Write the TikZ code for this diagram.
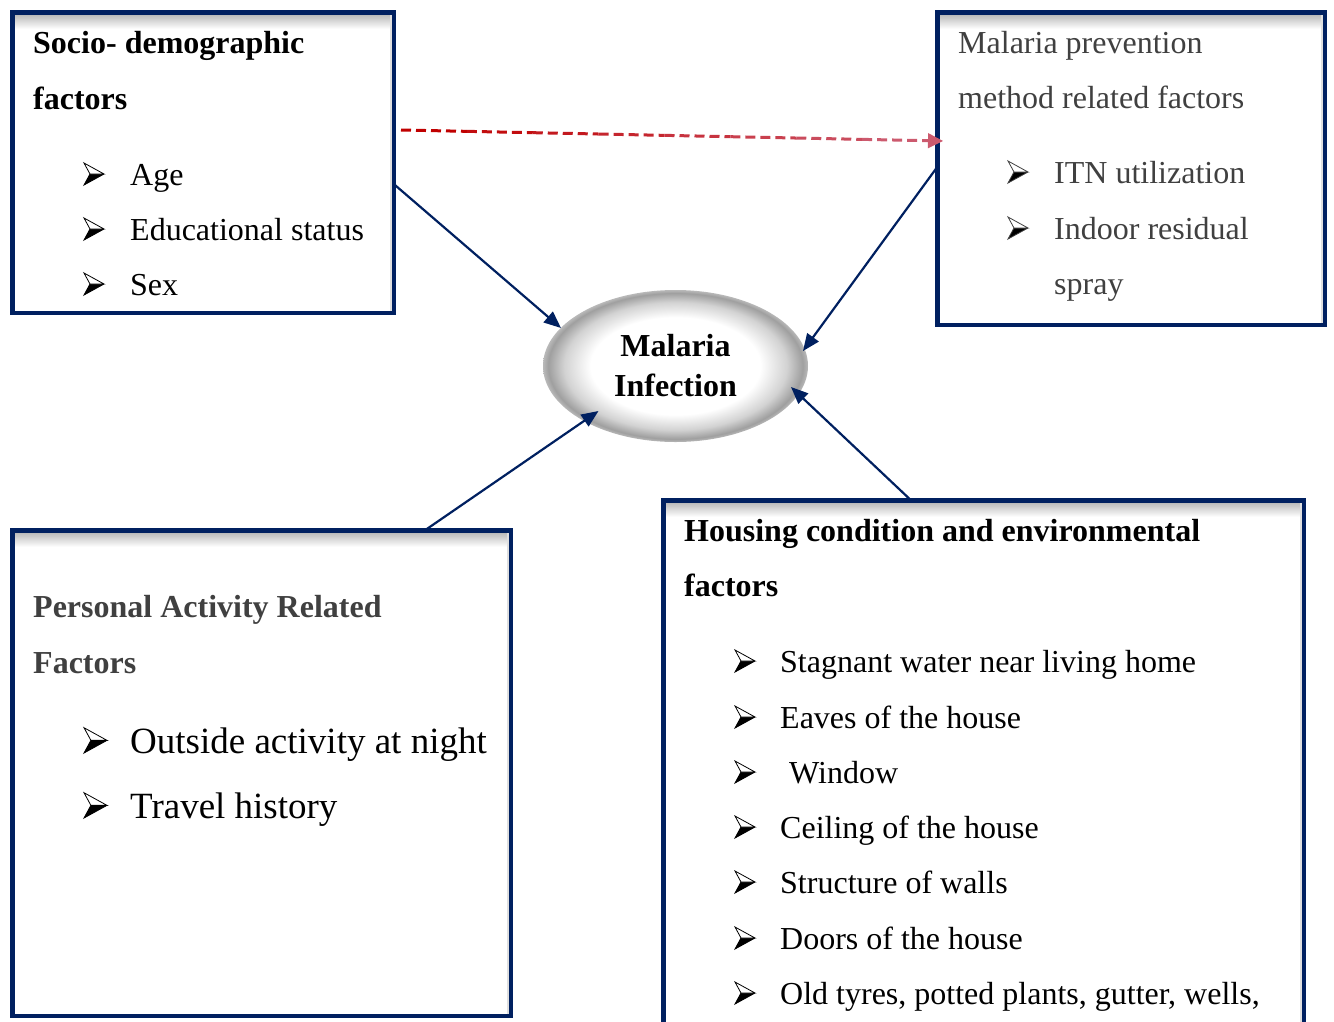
\documentclass[tikz,border=0pt]{standalone}
\usepackage{fontspec}
\setmainfont{Liberation Serif}
\usetikzlibrary{arrows.meta,calc,shapes.geometric}
\definecolor{navy}{HTML}{002060}
\definecolor{dgrey}{HTML}{404040}
\definecolor{dred}{HTML}{C00000}
\definecolor{pinkr}{HTML}{CC5A6E}
\pgfdeclareradialshading{ellshade}{\pgfpoint{0bp}{0bp}}{color(0bp)=(white); color(16bp)=(white); color(21bp)=(gray!35); color(24bp)=(gray!75); color(25bp)=(gray!55); color(50bp)=(gray!55)}
\tikzset{
  bul/.pic={
    \fill[black] (6,-11) -- (20,-11) -- (0,0) -- cycle;
    \draw[line width=0.8pt, fill=white, line join=miter] (0,-22) -- (20,-11) -- (6,-11) -- cycle;
    \draw[line width=0.8pt] (6,-11) -- (0,0) -- (20,-11);
  }
}
\begin{document}
\begin{tikzpicture}[x=1pt,y=-1pt,
  box/.style={draw=navy, line width=4.5pt, fill=white, inner sep=0pt, outer sep=0pt, anchor=north west,
    path picture={
      \foreach \k in {0,...,17}{
        \pgfmathtruncatemacro\c{65-\k*65/17}
        \fill[gray!\c] ([yshift=-\k pt]path picture bounding box.north west)
          rectangle ([yshift=-\k pt-1.3pt]path picture bounding box.north east);
      }
      \fill[gray!25] (path picture bounding box.north east) rectangle ([xshift=-4pt]path picture bounding box.south east);
    }},
  txt/.style={anchor=base west, inner sep=0pt, font=\fontsize{32}{38}\selectfont},
  btxt/.style={txt, font=\fontsize{32}{38}\selectfont\bfseries},
  ltxt/.style={anchor=base west, inner sep=0pt, font=\fontsize{37}{44}\selectfont},
  arr/.style={draw=navy, line width=2.2pt, -{Triangle[length=17pt,width=14pt]}},
  dline/.style={line width=3pt, dash pattern=on 10pt off 5pt}
]
\useasboundingbox (0,0) rectangle (1334,1021);
\clip (0,0) rectangle (1334,1021);

% boxes
\node[box, minimum width=381.5, minimum height=300.5] (soc) at (12.25,12.25) {};
\node[box, minimum width=387.5, minimum height=312.5] (prev) at (937.25,12.25) {};
\node[box, minimum width=498.5, minimum height=485.5] (pers) at (12.25,530.25) {};
\node[box, minimum width=640.5, minimum height=600] (hous) at (663.25,500.25) {};

% ellipse
\node[ellipse, shading=ellshade, minimum width=265, minimum height=152, inner sep=0pt,
  align=center, font=\fontsize{32}{40}\selectfont\bfseries] (ell) at (675.5,366) {Malaria\\Infection};

% socio-demographic
\node[btxt] (s1) at (33,53) {Socio- demographic};
\node[btxt] (s2) at (33,109) {factors};
\pic at (84,185) {bul}; \node[txt] (s3) at (130,185) {Age};
\pic at (84,240) {bul}; \node[txt] (s4) at (130,240) {Educational status};
\pic at (84,295) {bul}; \node[txt] (s5) at (130,295) {Sex};

% prevention
\node[txt, text=dgrey] (p1) at (958,53) {Malaria prevention};
\node[txt, text=dgrey] (p2) at (958,108) {method related factors};
\pic[dgrey] at (1008,183) {bul}; \node[txt, text=dgrey] (p3) at (1054,183) {ITN utilization};
\pic[dgrey] at (1008,239) {bul}; \node[txt, text=dgrey] (p4) at (1054,239) {Indoor residual};
\node[txt, text=dgrey] (p5) at (1054,294) {spray};

% personal
\node[btxt, text=dgrey] (a1) at (33,617) {Personal Activity Related};
\node[btxt, text=dgrey] (a2) at (33,673) {Factors};
\pic[scale=1.15] at (84,753) {bul}; \node[ltxt] (a3) at (130,753) {Outside activity at night};
\pic[scale=1.15] at (84,818) {bul}; \node[ltxt] (a4) at (130,818) {Travel history};

% housing
\node[btxt] (h1) at (684,541) {Housing condition and environmental};
\node[btxt] (h2) at (684,596) {factors};
\pic at (735,672) {bul}; \node[txt] (h3) at (780,672) {Stagnant water near living home};
\pic at (735,728) {bul}; \node[txt] (h4) at (780,728) {Eaves of the house};
\pic at (735,783) {bul}; \node[txt] (h5) at (789,783) {Window};
\pic at (735,838) {bul}; \node[txt] (h6) at (780,838) {Ceiling of the house};
\pic at (735,893) {bul}; \node[txt] (h7) at (780,893) {Structure of walls};
\pic at (735,949) {bul}; \node[txt] (h8) at (780,949) {Doors of the house};
\pic at (735,1004) {bul}; \node[txt] (h9) at (780,1004) {Old tyres, potted plants, gutter, wells,};

% arrows
\draw[arr] (soc.east |- 0,184) -- ($(ell.center)+(-114.5,-38)$);
\draw[arr] (prev.west |- 0,167) -- ($(ell.center)+(127.5,-15)$);
\draw[arr] (pers.north -| 425,0) -- ($(ell.center)+(-77,45)$);
\draw[arr] (hous.north -| 911,0) -- ($(ell.center)+(115.5,21)$);

% dashed arrow
\coordinate (ds) at (401,130);
\coordinate (de) at (928,140.7);
\coordinate (dt) at (943,141);
\foreach \i in {0,...,7}{
  \pgfmathsetmacro\a{\i/8}
  \pgfmathsetmacro\b{(\i+1)/8}
  \pgfmathtruncatemacro\c{\i*100/7}
  \draw[dline, color=pinkr!\c!dred] ($(ds)!\a!(de)$) -- ($(ds)!\b!(de)$);
}
\draw[line width=1pt, color=pinkr, -{Triangle[length=15pt,width=15pt]}] (de) -- (dt);
\end{tikzpicture}
\end{document}
